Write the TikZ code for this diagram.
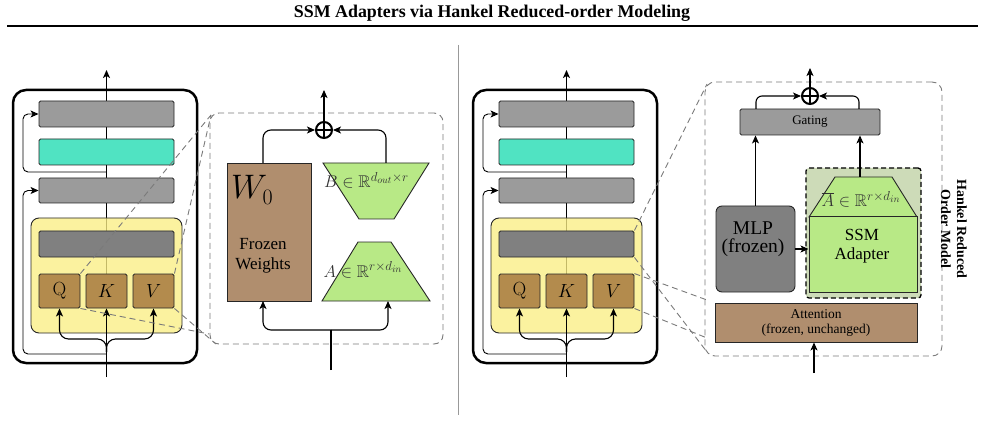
\documentclass[tikz,border=0pt]{standalone}
\usepackage[no-math]{fontspec}
\setmainfont{Liberation Serif}
\usepackage{amssymb}
\DeclareFontShape{OT1}{cmr}{m}{n}{<-6>cmr5 <6-7>cmr6 <7-8>cmr7 <8-9>cmr8 <9-10>cmr9 <10-12>cmr10 <12-17>cmr12 <17->cmr17}{}
\DeclareFontShape{OML}{cmm}{m}{it}{<-6>cmmi5 <6-7>cmmi6 <7-8>cmmi7 <8-9>cmmi8 <9-10>cmmi9 <10-12>cmmi10 <12->cmmi12}{\skewchar\font'177}
\DeclareFontShape{OMS}{cmsy}{m}{n}{<-6>cmsy5 <6-7>cmsy6 <7-8>cmsy7 <8-9>cmsy8 <9-10>cmsy9 <10->cmsy10}{\skewchar\font'60}
\DeclareMathSizes{17}{17}{13}{10}
\DeclareMathSizes{19}{19}{14}{10}
\DeclareMathSizes{34}{34}{22}{16}
\usetikzlibrary{arrows.meta}
\pgfdeclarelayer{bg}
\pgfsetlayers{bg,main}
\definecolor{boxgray}{HTML}{9B9B9B}
\definecolor{dgray}{HTML}{808080}
\definecolor{tealc}{HTML}{50E3C2}
\definecolor{yellowc}{HTML}{FAEE84}
\definecolor{qkvc}{HTML}{B38B4D}
\definecolor{tanc}{HTML}{B08E6E}
\definecolor{greenc}{HTML}{B8E986}
\definecolor{ssmbg}{HTML}{CDDBB8}
\definecolor{dashc}{HTML}{7A7A7A}
\tikzset{
  arr/.style={-{Stealth[length=8pt,width=7pt,inset=2pt]}, line width=1.1pt},
  thinarr/.style={-{Stealth[length=8pt,width=7pt,inset=2pt]}, line width=0.9pt},
  conn/.style={line width=1.1pt},
  blk/.style={draw=black!85, line width=0.9pt, rounded corners=1.5pt, inner sep=0pt},
  zoomline/.style={dashc, dash pattern=on 6pt off 4pt, line width=0.9pt},
  zoombox/.style={draw=dashc, dash pattern=on 6pt off 4pt, line width=0.9pt, rounded corners=9pt, inner sep=0pt},
  trapfill/.style={fill=greenc},
  trapline/.style={draw=black!85, line width=0.9pt},
  mathlab/.style={inner sep=0pt, text=black!80},
  lab/.style={inner sep=0pt},
}
\newcommand\tblock[2]{%
\begin{scope}[xshift=#2pt]
  \node[draw, line width=2.5pt, rounded corners=13pt, minimum width=184pt, minimum height=273pt, inner sep=0pt] (#1outer) at (105,226.5) {};
  \node[draw=black!85, line width=0.9pt, rounded corners=8pt, fill=yellowc, fill opacity=0.78, minimum width=151pt, minimum height=115pt, inner sep=0pt] (#1yel) at (106.5,275.5) {};
  \node[blk, fill=boxgray, minimum width=135pt, minimum height=26pt] (#1top) at (106.5,114) {};
  \node[blk, fill=tealc, minimum width=135pt, minimum height=26pt] (#1mid) at (106.5,152) {};
  \node[blk, fill=boxgray, minimum width=135pt, minimum height=25pt] (#1low) at (106.5,190.5) {};
  \node[blk, fill=dgray, minimum width=135pt, minimum height=26pt] (#1dark) at (106.5,244) {};
  \node[blk, fill=qkvc, minimum width=41pt, minimum height=34pt, font=\fontsize{19}{19}\selectfont] (#1Q) at (59.5,291) {$\mathrm{Q}$};
  \node[blk, fill=qkvc, minimum width=41pt, minimum height=34pt, font=\fontsize{19}{19}\selectfont] (#1K) at (106.5,291) {$K$};
  \node[blk, fill=qkvc, minimum width=41pt, minimum height=34pt, font=\fontsize{19}{19}\selectfont] (#1V) at (153.5,291) {$V$};
  \coordinate (#1in) at (106.5,377);
  \coordinate (#1outp) at (106.5,70);
  \coordinate (#1br) at (106.5,352);
  \coordinate (#1r1) at (106.5,354);
  \coordinate (#1r2) at (106.5,172);
  \begin{pgfonlayer}{bg}
    \draw[arr] (#1K.north) -- (#1outp);
  \end{pgfonlayer}
  \draw[arr] (#1in) -- (#1K.south);
  \draw[arr, rounded corners=9pt] (#1br) -- ++(0,-13) -| (#1Q.south);
  \draw[arr, rounded corners=9pt] (#1br) -- ++(0,-13) -| (#1V.south);
  \draw[thinarr, rounded corners=5pt] (#1r1) -- (23,354) |- (#1low.west);
  \draw[thinarr, rounded corners=5pt] (#1r2) -- (23,172) |- (#1top.west);
\end{scope}}
\begin{document}
\begin{tikzpicture}[x=1pt,y=-1pt]
\useasboundingbox (0,0) rectangle (985,422);
% title
\node[lab, font=\bfseries\fontsize{17.9}{20}\selectfont] (title) at (492,13) {SSM Adapters via Hankel Reduced-order Modeling};
\coordinate (ruleL) at (7,26);
\coordinate (ruleR) at (978,26);
\draw[line width=1.4pt] (ruleL) -- (ruleR);
\coordinate (sepT) at (458,45);
\coordinate (sepB) at (458,415);
\draw[black!40, line width=0.9pt] (sepT) -- (sepB);

% ===== left panel =====
\tblock{L}{0}
\node[zoombox, minimum width=233pt, minimum height=231pt] (zoomL) at (326.5,228.5) {};
\coordinate (zLa) at (211,115);
\coordinate (zLc) at (209,334);
\coordinate (zLd) at (216,344);
\draw[zoomline] (LQ.north east) -- (zLa);
\draw[zoomline] (LV.north east) -- (zLa);
\draw[zoomline] (LQ.south east) -- (zLc);
\draw[zoomline] (LV.south east) -- (zLd);

\node[draw=black!85, line width=0.9pt, fill=tanc, minimum width=84pt, minimum height=138pt, inner sep=0pt] (W) at (269,232) {};
\node[lab, anchor=base west, font=\fontsize{34}{34}\selectfont] (W0) at (231,199) {$W_0$};
\node[lab, align=center, font=\fontsize{17}{20}\selectfont] (Wtxt) at (263,256) {Frozen\\Weights};

% B trapezoid
\coordinate (B1) at (323,163);
\coordinate (B2) at (429,163);
\coordinate (B3) at (394,219);
\coordinate (B4) at (359,219);
\fill[trapfill] (B1) -- (B2) -- (B3) -- (B4) -- cycle;
\node[mathlab, anchor=base west, font=\fontsize{17}{17}\selectfont] (Blab) at (324,188) {$B\in\mathbb{R}^{d_{out}\times r}$};
\draw[trapline] (B1) -- (B2) -- (B3) -- (B4) -- cycle;
% A trapezoid
\coordinate (A1) at (358,242);
\coordinate (A2) at (391,242);
\coordinate (A3) at (430,301);
\coordinate (A4) at (322,301);
\fill[trapfill] (A1) -- (A2) -- (A3) -- (A4) -- cycle;
\node[mathlab, anchor=base west, font=\fontsize{17}{17}\selectfont] (Alab) at (323.5,277) {$A\in\mathbb{R}^{r\times d_{in}}$};
\draw[trapline] (A1) -- (A2) -- (A3) -- (A4) -- cycle;

\node[circle, draw, line width=2pt, minimum size=16pt, inner sep=0pt] (plusL) at (324,130) {};
\draw[line width=2pt] (plusL.north) -- (plusL.south) (plusL.west) -- (plusL.east);
\coordinate (outL) at (324,90);
\draw[arr] (plusL.north) -- (outL);
\coordinate (Wt) at (263,163);
\coordinate (Bt) at (386,163);
\draw[arr, rounded corners=8pt] (Wt) |- (plusL.west);
\draw[arr, rounded corners=8pt] (Bt) |- (plusL.east);
\coordinate (inL) at (331,370);
\coordinate (jL) at (331,330);
\coordinate (Wb) at (263,301);
\coordinate (Ab) at (388,301);
\draw[conn] (inL) -- (jL);
\draw[arr, rounded corners=8pt] (jL) -| (Wb);
\draw[arr, rounded corners=8pt] (jL) -| (Ab);

% ===== right panel =====
\tblock{R}{460}
\node[zoombox, rounded corners=10pt, minimum width=237pt, minimum height=274pt] (zoomR) at (823.5,219) {};
\coordinate (zRe) at (707,84);
\coordinate (zRf) at (707,352);
\coordinate (zRg) at (707,300);
\coordinate (zRh) at (707,338);
\draw[zoomline] (Rdark.north east) -- (zRe);
\draw[zoomline] (Rdark.south east) -- (zRf);
\draw[zoomline] (RV.north east) -- (zRg);
\draw[zoomline] (RV.south east) -- (zRh);

\node[blk, fill=boxgray, minimum width=140pt, minimum height=26pt, font=\fontsize{13}{13}\selectfont] (gate) at (810,122) {Gating};
\node[circle, draw, line width=2pt, minimum size=16pt, inner sep=0pt] (plusR) at (810,96) {};
\draw[line width=2pt] (plusR.north) -- (plusR.south) (plusR.west) -- (plusR.east);
\coordinate (outR) at (810,68);
\draw[arr] (plusR.north) -- (outR);
\coordinate (gL) at (756,109);
\coordinate (gR) at (859,109);
\draw[arr, rounded corners=6pt] (gL) |- (plusR.west);
\draw[arr, rounded corners=6pt] (gR) |- (plusR.east);

\node[draw=black!85, line width=0.9pt, rounded corners=6pt, fill=dgray, minimum width=79pt, minimum height=86pt, inner sep=0pt] (mlp) at (755.5,249) {};
\node[lab, align=center, font=\fontsize{19.5}{18}\selectfont] (mlpt) at (753,239) {MLP\\(frozen)};

\node[draw=black, line width=1.3pt, dash pattern=on 5pt off 3pt, rounded corners=3pt, fill=ssmbg, minimum width=115pt, minimum height=130pt, inner sep=0pt] (ssmbox) at (863.5,233) {};
\coordinate (T1) at (835,177);
\coordinate (T2) at (892,177);
\coordinate (T3) at (917,217);
\coordinate (T4) at (809,217);
\fill[trapfill] (T1) -- (T2) -- (T3) -- (T4) -- cycle;
\node[mathlab, anchor=base west, font=\fontsize{17}{17}\selectfont] (Ablab) at (821.5,207) {$\overline{A}\in\mathbb{R}^{r\times d_{in}}$};
\draw[trapline] (T1) -- (T2) -- (T3) -- (T4) -- cycle;
\node[draw=black!85, line width=1pt, fill=greenc, minimum width=108pt, minimum height=75pt, inner sep=0pt] (ssm) at (863,254.5) {};
\node[lab, align=center, font=\fontsize{17}{19}\selectfont] (ssmt) at (862,246) {SSM\\Adapter};

\node[draw=black!85, line width=0.9pt, fill=tanc, minimum width=202pt, minimum height=39pt, inner sep=0pt, align=center, font=\fontsize{13.5}{15}\selectfont] (att) at (816,322.5) {Attention\\(frozen, unchanged)};

\coordinate (Tt) at (860,177);
\draw[arr] (mlp.north) -- (mlp.north |- gate.south);
\draw[arr] (Tt) -- (Tt |- gate.south);
\draw[arr] (mlp.east) -- (mlp.east -| ssm.west);
\coordinate (inR) at (814,373);
\draw[arr] (inR) -- (inR |- att.south);

\node[rotate=-90, align=center, font=\bfseries\fontsize{14}{16}\selectfont, inner sep=0pt] (hrom) at (954,229) {Hankel Reduced\\Order Model};
\end{tikzpicture}
\end{document}
